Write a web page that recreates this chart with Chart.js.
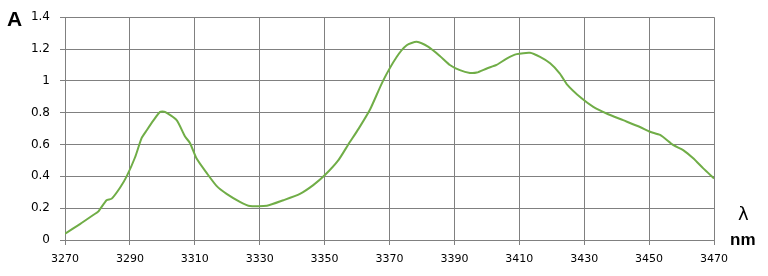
<!DOCTYPE html>
<html><head><meta charset="utf-8">
<script src="https://cdn.jsdelivr.net/npm/chart.js@4/dist/chart.umd.min.js"></script>
<style>
html,body{margin:0;padding:0;background:#fff;}
#wrap{position:relative;width:768px;height:276px;}
canvas{position:absolute;left:0;top:0;}
.lbl{position:absolute;font-family:"Liberation Sans",Arial,sans-serif;font-weight:bold;color:#000;line-height:1;}
</style></head>
<body>
<div id="wrap">
<canvas id="c" width="768" height="276"></canvas>
<div class="lbl" style="left:7px;top:8px;font-size:21px;">A</div>
<div class="lbl" style="left:738px;top:205px;font-size:18px;font-weight:normal;font-family:'DejaVu Sans';">λ</div>
<div class="lbl" style="left:730px;top:231px;font-size:17px;">nm</div>
</div>
<script>
const wavelength = [3270,3274.6,3278.7,3280.3,3282.8,3284.4,3287,3289,3291.6,3293.6,3295.2,3297.2,3299.3,3300.8,3304.4,3307,3308.5,3310.6,3313.7,3316.7,3319.8,3323.9,3327,3332.2,3337.3,3342.4,3346.5,3350.1,3354.2,3357.3,3360.5,3364,3368,3372.2,3375.3,3378.4,3382,3385.6,3388.6,3391.7,3394.8,3396.9,3400,3403,3406.1,3409.2,3413.3,3416.4,3419.5,3422.5,3424.6,3429.2,3432.8,3436.9,3442,3447.2,3450.3,3453.4,3457.5,3460.5,3463.6,3466.7,3470];
const absorbance = [0.04,0.10,0.157,0.18,0.25,0.26,0.33,0.40,0.52,0.64,0.69,0.75,0.805,0.805,0.753,0.65,0.61,0.51,0.42,0.34,0.29,0.24,0.213,0.215,0.25,0.29,0.345,0.408,0.50,0.60,0.70,0.82,1.0,1.15,1.224,1.245,1.213,1.155,1.10,1.067,1.05,1.052,1.078,1.10,1.14,1.168,1.176,1.15,1.11,1.046,0.98,0.89,0.837,0.795,0.753,0.71,0.68,0.66,0.596,0.565,0.513,0.45,0.387];
const xTickStep = 20;
const yTickStep = 0.2;

const pts = wavelength.map((w,i)=>({x:w,y:absorbance[i]}));
const gridCol = 'rgba(128,128,128,1)';
new Chart(document.getElementById('c'),{
  type:'line',
  data:{datasets:[{data:pts,borderColor:'#70AD47',borderWidth:2,pointRadius:0,tension:0.2,fill:false}]},
  options:{
    responsive:false,animation:false,devicePixelRatio:1,
    layout:{padding:{left:0,right:54,top:17,bottom:0}},
    plugins:{legend:{display:false},tooltip:{enabled:false}},
    scales:{
      x:{type:'linear',min:3270,max:3470,
        afterFit:s=>{s.height=36;},
        grid:{display:true,color:gridCol,lineWidth:1,tickLength:5,drawTicks:true,drawOnChartArea:true,z:0},
        border:{display:true,color:gridCol,width:1},
        ticks:{stepSize:xTickStep,color:'#000',padding:8,maxRotation:0,autoSkip:false,font:{family:'DejaVu Sans',size:11},callback:v=>String(v)}},
      y:{min:0,max:1.4,
        afterFit:s=>{s.width=65;},
        grid:{display:true,color:gridCol,lineWidth:1,tickLength:5,drawOnChartArea:true,z:0},
        border:{display:true,color:gridCol,width:1},
        ticks:{stepSize:yTickStep,color:'#000',padding:10,font:{family:'DejaVu Sans',size:12},callback:v=>String(Math.round(v*10)/10)}}
    }
  }
});
</script>
</body></html>
